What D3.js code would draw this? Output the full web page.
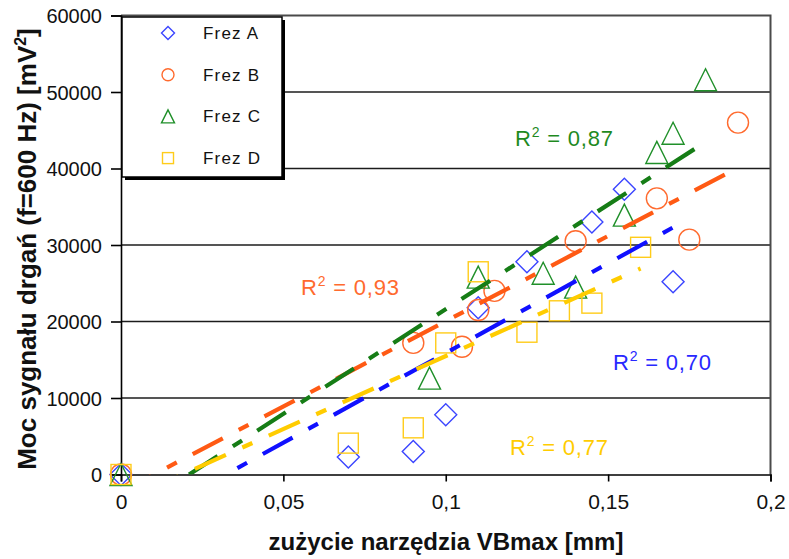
<!DOCTYPE html>
<html>
<head>
<meta charset="utf-8">
<script src="https://cdn.jsdelivr.net/npm/d3@7"></script>
<style>
  html, body { margin: 0; padding: 0; background: #fff; }
  svg { display: block; font-family: "Liberation Sans", Arial, sans-serif; }
</style>
</head>
<body>
<svg id="chart" width="789" height="559"></svg>
<script>
// Tool wear (VB max, mm) against vibration signal power at 600 Hz, four cutters
const xTicks = [0, 0.05, 0.1, 0.15, 0.2];
const xTickLabels = ["0", "0,05", "0,1", "0,15", "0,2"];
const yTicks = [0, 10000, 20000, 30000, 40000, 50000, 60000];
const yTickLabels = ["0", "10000", "20000", "30000", "40000", "50000", "60000"];

const seriesNames = ["Frez A", "Frez B", "Frez C", "Frez D"];

const frezA_x = [0, 0.07, 0.09, 0.10, 0.11, 0.125, 0.145, 0.155, 0.17];
const frezA_y = [0, 2300, 3000, 7800, 21800, 27800, 33000, 37300, 25200];

const frezB_x = [0, 0.09, 0.105, 0.11, 0.115, 0.14, 0.165, 0.175, 0.19];
const frezB_y = [0, 17200, 16700, 21500, 24000, 30500, 36100, 30700, 46000];

const frezC_x = [0, 0.095, 0.11, 0.13, 0.14, 0.155, 0.165, 0.17, 0.18];
const frezC_y = [0, 12600, 25800, 26300, 24500, 33900, 42100, 44600, 51600];

const frezD_x = [0, 0.07, 0.09, 0.10, 0.11, 0.125, 0.135, 0.145, 0.16];
const frezD_y = [0, 4100, 6100, 17200, 26500, 18600, 21400, 22400, 29700];

const r2Labels = ["0,70", "0,93", "0,87", "0,77"];

// ---- layout ----
const svg = d3.select("#chart");
const plotL = 121, plotR = 770.5, plotT = 15.5, plotB = 474.5;

const x = d3.scaleLinear().domain([0, 0.2]).range([plotL, plotR]);
const y = d3.scaleLinear().domain([0, 60000]).range([plotB, plotT]);

const markerColors = ["#3b45ff", "#ff6a2e", "#20902a", "#ffcc1a"];
const lineColors   = ["#1010ff", "#ff5a14", "#167d16", "#ffcc00"];
const textColors   = ["#2828ff", "#ff6a2e", "#1f8a1f", "#ffcc00"];
const shapes = ["diamond", "circle", "triangle", "square"];

const series = [
  { name: seriesNames[0], xs: frezA_x, ys: frezA_y },
  { name: seriesNames[1], xs: frezB_x, ys: frezB_y },
  { name: seriesNames[2], xs: frezC_x, ys: frezC_y },
  { name: seriesNames[3], xs: frezD_x, ys: frezD_y }
].map((s, i) => ({ ...s, pts: s.xs.map((v, k) => [v, s.ys[k]]), idx: i }));

// clip region for trend lines
svg.append("defs").append("clipPath").attr("id", "plotClip")
  .append("rect").attr("x", plotL).attr("y", plotT)
  .attr("width", plotR - plotL).attr("height", plotB - plotT);

// horizontal gridlines
svg.append("g").selectAll("line")
  .data(yTicks.filter(t => t > 0 && t < 60000))
  .join("line")
  .attr("x1", plotL).attr("x2", plotR)
  .attr("y1", d => y(d)).attr("y2", d => y(d))
  .attr("stroke", "#1c1c1c").attr("stroke-width", 1.6);

// plot border (top and right)
svg.append("path")
  .attr("d", `M${plotL},${plotT}H${plotR}V${plotB}`)
  .attr("fill", "none").attr("stroke", "#4a4a4a").attr("stroke-width", 2);

// axes
const yAxis = d3.axisLeft(y).tickValues(yTicks).tickFormat((d, i) => yTickLabels[i])
  .tickSize(10).tickPadding(9);
const gy = svg.append("g").attr("transform", `translate(${plotL},0)`).call(yAxis);
gy.select(".domain").attr("stroke", "#000").attr("stroke-width", 1.6);
gy.selectAll(".tick line").attr("stroke", "#000").attr("stroke-width", 1.6);
gy.selectAll(".tick text")
  .attr("font-family", "Liberation Sans, Arial, sans-serif")
  .attr("font-size", 20).attr("fill", "#111")
  .attr("dy", "0.36em");

const xAxis = d3.axisBottom(x).tickValues(xTicks).tickFormat((d, i) => xTickLabels[i])
  .tickSize(7).tickPadding(13);
const gx = svg.append("g").attr("transform", `translate(0,${plotB})`).call(xAxis);
gx.select(".domain").attr("stroke", "#000").attr("stroke-width", 1.6);
gx.selectAll(".tick line").attr("stroke", "#000").attr("stroke-width", 1.6);
gx.selectAll(".tick text")
  .attr("font-family", "Liberation Sans, Arial, sans-serif")
  .attr("font-size", 21).attr("fill", "#111");

// marker drawing
function marker(sel, shape, color, size) {
  sel.each(function () {
    const g = d3.select(this);
    const h = size / 2;
    if (shape === "diamond") {
      g.append("path").attr("d", `M0,${-h}L${h},0L0,${h}L${-h},0Z`);
    } else if (shape === "circle") {
      g.append("circle").attr("r", h - 0.5);
    } else if (shape === "triangle") {
      g.append("path").attr("d", `M0,${-h}L${h},${h}L${-h},${h}Z`);
    } else {
      g.append("rect").attr("x", -h + 1).attr("y", -h + 1)
        .attr("width", size - 2).attr("height", size - 2);
    }
    g.selectAll("*").attr("fill", "none").attr("stroke", color).attr("stroke-width", 1.4);
  });
}

// data markers
series.forEach(s => {
  svg.append("g").selectAll("g")
    .data(s.pts)
    .join("g")
    .attr("transform", d => `translate(${x(d[0])},${y(d[1])})`)
    .call(marker, shapes[s.idx], markerColors[s.idx], 22);
});

// least-squares linear trend for each cutter, drawn over its data range
function linearFit(xs, ys) {
  const mx = d3.mean(xs), my = d3.mean(ys);
  let sxy = 0, sxx = 0;
  xs.forEach((v, k) => { sxy += (v - mx) * (ys[k] - my); sxx += (v - mx) ** 2; });
  const b = sxy / sxx;
  return { b, a: my - b * mx };
}

const trend = svg.append("g").attr("clip-path", "url(#plotClip)");
series.forEach(s => {
  const f = linearFit(s.xs, s.ys);
  const [x0, x1] = d3.extent(s.xs);
  const line = d3.line().x(d => x(d[0])).y(d => y(d[1]));
  trend.append("path")
    .attr("d", line([[x0, f.a + f.b * x0], [x1, f.a + f.b * x1]]))
    .attr("fill", "none")
    .attr("stroke", lineColors[s.idx])
    .attr("stroke-width", 4.2)
    .attr("stroke-dasharray", "34,18,11,18");
});

// R² annotations
const r2Pos = [[613, 370], [301, 295], [515, 146], [510, 455]];
r2Labels.forEach((lab, i) => {
  const t = svg.append("text")
    .attr("x", r2Pos[i][0]).attr("y", r2Pos[i][1])
    .attr("font-size", 22).attr("letter-spacing", 0.8).attr("fill", textColors[i]);
  t.append("tspan").text("R");
  t.append("tspan").attr("font-size", 14).attr("dy", -9).text("2");
  t.append("tspan").attr("dy", 9).text(" = " + lab);
});

// legend box with drop shadow
const lg = svg.append("g");
lg.append("rect").attr("x", 125).attr("y", 20).attr("width", 160).attr("height", 160).attr("fill", "#000");
lg.append("rect").attr("x", 122).attr("y", 17).attr("width", 160).attr("height", 160)
  .attr("fill", "#fff").attr("stroke", "#000").attr("stroke-width", 1.5);
const rows = lg.selectAll("g.row").data(series).join("g").attr("class", "row")
  .attr("transform", (d, i) => `translate(0,${33 + i * 41.7})`);
rows.append("g").attr("transform", "translate(168,0)")
  .each(function (d) { d3.select(this).call(marker, shapes[d.idx], markerColors[d.idx], 13); });
rows.append("text").attr("x", 203).attr("y", 6)
  .attr("font-size", 17).attr("letter-spacing", 1.2).attr("fill", "#111")
  .text(d => d.name);

// axis titles
svg.append("text")
  .attr("x", 446).attr("y", 550)
  .attr("text-anchor", "middle")
  .attr("font-size", 24).attr("font-weight", "bold").attr("fill", "#111")
  .text("zużycie narzędzia VBmax [mm]");

const yt = svg.append("text")
  .attr("transform", "translate(36,249) rotate(-90)")
  .attr("text-anchor", "middle")
  .attr("font-size", 26).attr("font-weight", "bold").attr("fill", "#111");
yt.append("tspan").text("Moc sygnału drgań (f=600 Hz) [mV");
yt.append("tspan").attr("font-size", 16).attr("dy", -10).text("2");
yt.append("tspan").attr("dy", 10).text("]");
</script>
</body>
</html>
